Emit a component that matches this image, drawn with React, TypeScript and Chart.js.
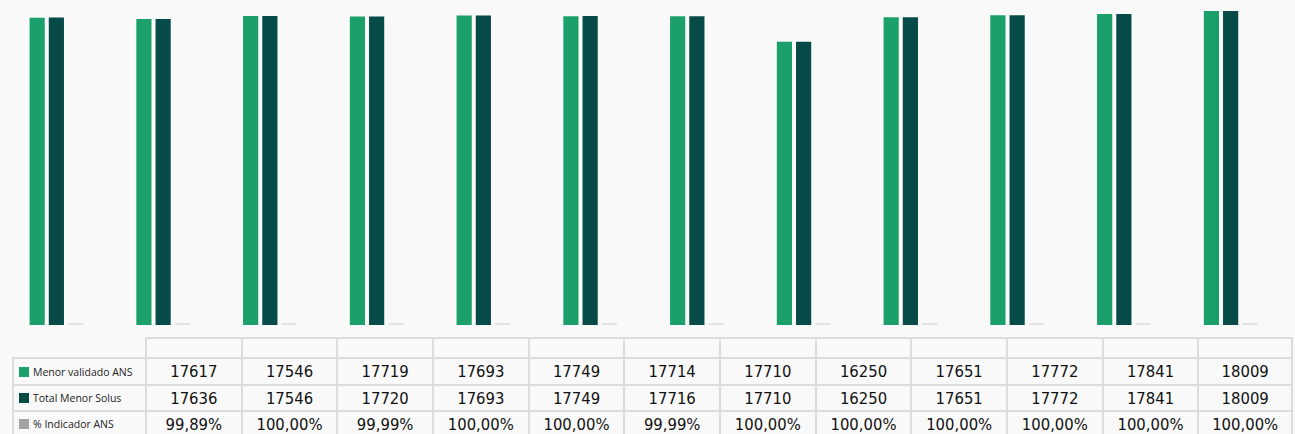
import React, { useEffect, useRef } from "react";
import { Chart, registerables } from "chart.js";

Chart.register(...registerables);

const categories = ["1", "2", "3", "4", "5", "6", "7", "8", "9", "10", "11", "12"];
const menorValidadoANS = [17617, 17546, 17719, 17693, 17749, 17714, 17710, 16250, 17651, 17772, 17841, 18009];
const totalMenorSolus = [17636, 17546, 17720, 17693, 17749, 17716, 17710, 16250, 17651, 17772, 17841, 18009];
const indicadorANS = [99.89, 100, 99.99, 100, 100, 99.99, 100, 100, 100, 100, 100, 100];
const seriesLabels = ["Menor validado ANS", "Total Menor Solus", "% Indicador ANS"];
const seriesColors = ["#1ba06b", "#064b47", "#a3a3a3"];
const barColors = ["#1ba06b", "#064b47", "#e0e0e0"];

const fmtPct = (v: number) => v.toFixed(2).replace(".", ",") + "%";

const BG = "#f9f9f9";
const BORDER = "2px solid #dcdcdc";
const LABEL_LEFT = 12;
const COL0 = 145;
const COLW = 95.67;
const ROW_TOPS = [357, 384, 410];
const ROW_H = [27, 26, 26];

export default function App() {
  const ref = useRef<HTMLCanvasElement | null>(null);

  useEffect(() => {
    document.body.style.margin = "0";
    document.body.style.background = BG;
    const ctx = ref.current;
    if (!ctx) return;
    const chart = new Chart(ctx, {
      type: "bar",
      data: {
        labels: categories,
        datasets: [
          { label: seriesLabels[0], data: menorValidadoANS, backgroundColor: barColors[0] },
          { label: seriesLabels[1], data: totalMenorSolus, backgroundColor: barColors[1] },
          { label: seriesLabels[2], data: indicadorANS, backgroundColor: barColors[2] },
        ],
      },
      options: {
        responsive: false,
        animation: false,
        maintainAspectRatio: false,
        layout: { padding: { left: 3, right: 11, top: 0, bottom: 1 } },
        datasets: { bar: { categoryPercentage: 0.54, barPercentage: 0.79 } },
        plugins: { legend: { display: false }, tooltip: { enabled: false } },
        scales: {
          x: { display: false },
          y: { display: false, min: 0, max: 18640 },
        },
      },
    });
    return () => chart.destroy();
  }, []);

  const rows = [
    menorValidadoANS.map((v) => String(v)),
    totalMenorSolus.map((v) => String(v)),
    indicadorANS.map(fmtPct),
  ];

  const cells: React.ReactNode[] = [];
  categories.forEach((c, i) => {
    cells.push(
      <div
        key={"h" + i}
        style={{
          position: "absolute",
          left: COL0 + i * COLW,
          top: 337,
          width: COLW,
          height: 20,
          borderTop: BORDER,
          borderLeft: BORDER,
          borderRight: i === categories.length - 1 ? BORDER : undefined,
          boxSizing: "border-box",
        }}
      />
    );
  });
  rows.forEach((r, ri) => {
    cells.push(
      <div
        key={"l" + ri}
        style={{
          position: "absolute",
          left: LABEL_LEFT,
          top: ROW_TOPS[ri],
          width: COL0 - LABEL_LEFT,
          height: ROW_H[ri],
          borderTop: BORDER,
          borderLeft: BORDER,
          boxSizing: "border-box",
          display: "flex",
          alignItems: "center",
          fontFamily: "'Open Sans', sans-serif",
          fontSize: 10.5,
          color: "#222",
          whiteSpace: "nowrap",
        }}
      >
        <span
          style={{
            display: "inline-block",
            width: 10,
            height: 10,
            background: seriesColors[ri],
            marginLeft: 5,
            marginRight: 4,
          }}
        />
        {seriesLabels[ri]}
      </div>
    );
    r.forEach((t, ci) => {
      cells.push(
        <div
          key={"c" + ri + "_" + ci}
          style={{
            position: "absolute",
            left: COL0 + ci * COLW,
            top: ROW_TOPS[ri],
            width: COLW,
            height: ROW_H[ri],
            borderTop: BORDER,
            borderLeft: BORDER,
            borderRight: ci === r.length - 1 ? BORDER : undefined,
            boxSizing: "border-box",
            display: "flex",
            alignItems: "center",
            justifyContent: "center",
            fontFamily: "'DejaVu Sans Condensed', 'DejaVu Sans', sans-serif",
            fontSize: 16.5,
            color: "#111",
            whiteSpace: "nowrap",
          }}
        >
          {t}
        </div>
      );
    });
  });

  return (
    <div style={{ position: "relative", width: 1295, height: 434, background: BG, overflow: "hidden" }}>
      <canvas ref={ref} width={1295} height={326} style={{ position: "absolute", left: 0, top: 0 }} />
      {cells}
    </div>
  );
}
